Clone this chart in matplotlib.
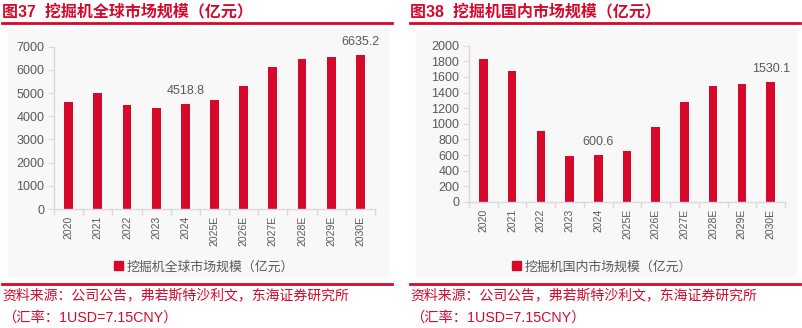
import matplotlib
matplotlib.use("Agg")
import matplotlib.pyplot as plt
from matplotlib.patches import Rectangle
from matplotlib.lines import Line2D

plt.rcParams['font.family'] = ['Liberation Sans', 'Noto Sans CJK SC', 'DejaVu Sans']

years = ['2020', '2021', '2022', '2023', '2024', '2025E', '2026E', '2027E', '2028E', '2029E', '2030E']
global_size = [4610, 5010, 4480, 4350, 4518.8, 4700, 5310, 6120, 6480, 6540, 6635.2]
china_size = [1825, 1672, 912, 592, 600.6, 648, 963, 1275, 1480, 1513, 1530.1]

RED = '#D6092B'
GRAY_TXT = '#595959'
AX_GRAY = '#D9D9D9'

W, H = 803, 328
fig = plt.figure(figsize=(W / 100, H / 100), dpi=100)


def px(x, y):
    return x / W, 1 - y / H


def panel(x0, x1, title):
    # title and red rules
    tx, ty = px(x0, 12)
    fig.text(tx, ty, title, color=RED, fontsize=11.5, fontweight='bold', va='center', ha='left')
    for yy in (22.7, 284):
        a, b = px(x0, yy)
        c, _ = px(x1, yy)
        fig.add_artist(Line2D([a, c], [b, b], color=RED, lw=2.0))
    # light background
    bx, by = px(x0 + 6, 276)
    fig.add_artist(Rectangle((bx, by), (x1 - x0 - 10) / W, 246 / H, color='#F8F8F8', zorder=-5))
    # source
    sx, sy = px(x0, 295)
    fig.text(sx, sy, '资料来源：公司公告，弗若斯特沙利文，东海证券研究所', color=RED, fontsize=10, va='center')
    sx, sy = px(x0, 318)
    fig.text(sx, sy, '（汇率：1USD=7.15CNY）', color=RED, fontsize=10.3, va='center')


def bars(ax, vals, ymax, step, labels_at):
    ax.set_facecolor('none')
    xs = range(len(years))
    ax.bar(xs, vals, width=0.3, color=RED)
    ax.set_xlim(-0.5, len(years) - 0.5)
    ax.set_ylim(0, ymax)
    ax.set_yticks(range(0, ymax + 1, step))
    # category boundaries get the tick marks, centres get the labels
    ax.set_xticks([i + 0.5 for i in range(-1, len(years))])
    ax.set_xticklabels([])
    ax.set_xticks(list(xs), minor=True)
    ax.set_xticklabels(years, minor=True, rotation=90, fontsize=7.5, color=GRAY_TXT)
    ax.tick_params(axis='x', which='minor', length=0, pad=5)
    ax.tick_params(axis='x', which='major', length=4, color=AX_GRAY, width=1)
    ax.tick_params(axis='y', length=4, color=AX_GRAY, labelsize=9, labelcolor=GRAY_TXT, pad=3)
    for s in ('top', 'right'):
        ax.spines[s].set_visible(False)
    for s in ('left', 'bottom'):
        ax.spines[s].set_color(AX_GRAY)
        ax.spines[s].set_linewidth(1)
    for i in labels_at:
        ax.annotate(f'{vals[i]:.1f}', (i, vals[i]), xytext=(0, 5), textcoords='offset points',
                    ha='center', va='bottom', fontsize=9, color=GRAY_TXT, annotation_clip=False)


def axes_px(left, right, top, bottom):
    l, b = px(left, bottom)
    return fig.add_axes([l, b, (right - left) / W, (bottom - top) / H])


# left panel
panel(2, 392, '图37  挖掘机全球市场规模（亿元）')
ax1 = axes_px(54, 375, 46.7, 209)
bars(ax1, global_size, 7000, 1000, [4, 10])

# right panel
panel(410, 800, '图38  挖掘机国内市场规模（亿元）')
ax2 = axes_px(469, 785, 45.7, 202)
bars(ax2, china_size, 2000, 200, [4, 10])

# legends
for cx, txt in ((204, '挖掘机全球市场规模（亿元）'), (602, '挖掘机国内市场规模（亿元）')):
    lx, ly = px(cx, 267)
    h = [Rectangle((0, 0), 1, 1, color=RED)]
    fig.legend(h, [txt], loc='center', bbox_to_anchor=(lx, ly), frameon=False,
               fontsize=9.3, handlelength=0.7, handleheight=0.7, handletextpad=0.3,
               labelcolor=GRAY_TXT)

fig.savefig('out.png', dpi=100)
